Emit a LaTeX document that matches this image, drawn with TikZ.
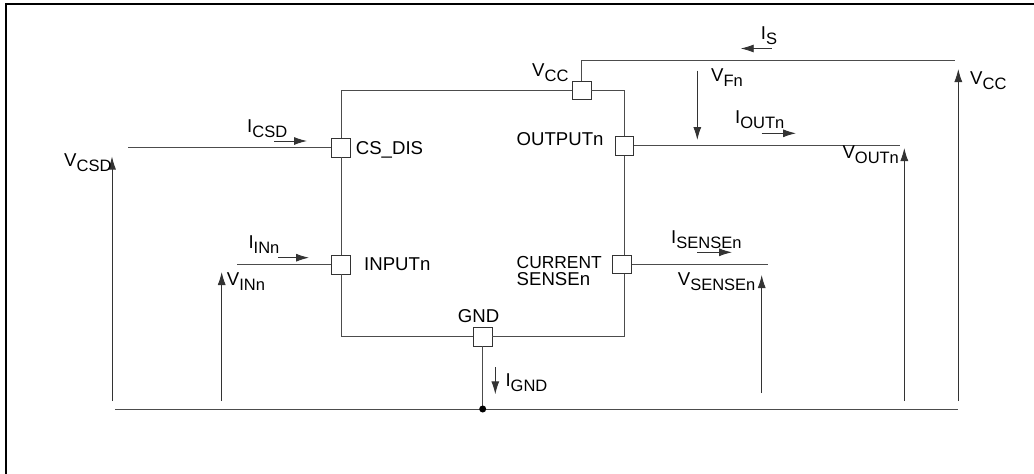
\documentclass[tikz,border=0pt]{standalone}
\usepackage{fontspec}
\setmainfont{Liberation Sans}
\usetikzlibrary{arrows.meta, positioning}
\tikzstyle{pad} = [rectangle, minimum size=18.5pt, inner sep=0pt, draw=black!80, fill=white, line width=0.9pt]
\tikzstyle{wire} = [black!70, line width=1pt]
\tikzstyle{arrow} = [black!80, line width=0.9pt, -{Latex[length=13pt,width=8pt]}]
\tikzstyle{lbl} = [inner sep=0pt, anchor=base west, font=\fontsize{18.6}{20}\selectfont]
\newcommand{\sublbl}[2]{#1{\fontsize{16.5}{17}\selectfont\raisebox{-5pt}{#2}}}

\begin{document}
\begin{tikzpicture}[x=1pt, y=-1pt]
\useasboundingbox (0,0) rectangle (1034,474);

% Frame
\draw [black, line width=2.2pt] (6,474) -- (6,4.3) -- (1034,4.3);

% Pads
\node (csdis) [pad] at (341,147.7) {};
\node (input) [pad, below of=csdis, node distance=117pt] {};
\node (vcc) [pad] at (581.7,90.5) {};
\node (output) [pad] at (624.3,145.8) {};
\node (sense) [pad] at (622,264.6) {};
\node (gnd) [pad] at (482.7,336.7) {};

% Line ends
\coordinate (boxtl) at (341,90.5);
\coordinate (boxtr) at (624.3,90.5);
\coordinate (boxbl) at (341,336.7);
\coordinate (boxbr) at (624.3,336.7);
\coordinate (vccleft) at (581.7,60);
\coordinate (vccright) at (955,60);
\coordinate (outend) at (900,145.8);
\coordinate (senseend) at (767.7,264.6);
\coordinate (csdend) at (128,147.7);
\coordinate (inend) at (237,264.7);
\coordinate (groundl) at (115,409);
\coordinate (groundr) at (958,409);
\coordinate (junction) at (482.7,409);
\coordinate (senseup) at (624.3,255.3);
\coordinate (sensedown) at (624.3,273.9);

% Wires
\draw [wire] (csdis) -- (boxtl) -- (vcc);
\draw [wire] (vcc) -- (boxtr) -- (output);
\draw [wire] (output) -- (senseup);
\draw [wire] (sensedown) -- (boxbr) -- (gnd);
\draw [wire] (gnd) -- (boxbl) -- (input);
\draw [wire] (input) -- (csdis);
\draw [wire] (vcc) -- (vccleft) -- (vccright);
\draw [wire] (output) -- (outend);
\draw [wire] (sense) -- (senseend);
\draw [wire] (csdis) -- (csdend);
\draw [wire] (input) -- (inend);
\draw [wire] (groundl) -- (groundr);
\draw [wire] (gnd) -- (junction);
\fill [black] (junction) circle (3.5pt);

% Voltage arrows
\coordinate (vcsdlow) at (112,401);
\coordinate (vcsdtip) at (112,156.5);
\coordinate (vinlow) at (221.7,401);
\coordinate (vintip) at (221.7,272);
\coordinate (vsenselow) at (761.7,393);
\coordinate (vsensetip) at (761.7,275);
\coordinate (voutlow) at (904.3,401);
\coordinate (vouttip) at (904.3,148);
\coordinate (vcclow) at (958.3,401);
\coordinate (vcctip) at (958.3,69);
\coordinate (vftop) at (697.3,70.7);
\coordinate (vftip) at (697.3,140);
\draw [arrow] (vcsdlow) -- (vcsdtip);
\draw [arrow] (vinlow) -- (vintip);
\draw [arrow] (vsenselow) -- (vsensetip);
\draw [arrow] (voutlow) -- (vouttip);
\draw [arrow] (vcclow) -- (vcctip);
\draw [arrow] (vftop) -- (vftip);

% Current arrows
\coordinate (isfrom) at (771.7,48.5);
\coordinate (isto) at (740.7,48.5);
\coordinate (ioutfrom) at (761.7,133.3);
\coordinate (ioutto) at (796,133.3);
\coordinate (icsdfrom) at (274,141);
\coordinate (icsdto) at (307,141);
\coordinate (iinfrom) at (278,257.7);
\coordinate (iinto) at (309,257.7);
\coordinate (isensefrom) at (697,252.3);
\coordinate (isenseto) at (732,252.3);
\coordinate (ignfrom) at (495.3,367.3);
\coordinate (ignto) at (495.3,394.3);
\draw [arrow] (isfrom) -- (isto);
\draw [arrow] (ioutfrom) -- (ioutto);
\draw [arrow] (icsdfrom) -- (icsdto);
\draw [arrow] (iinfrom) -- (iinto);
\draw [arrow] (isensefrom) -- (isenseto);
\draw [arrow] (ignfrom) -- (ignto);

% Pad names
\node (namecsdis) [lbl] at (355.7,154.3) {CS\_DIS};
\node (nameinput) [lbl] at (364,270) {INPUTn};
\node (nameoutput) [lbl] at (516.5,145) {OUTPUTn};
\node (namecurrent) [lbl, font=\fontsize{17.4}{19}\selectfont] at (516.5,268.3) {CURRENT};
\node (namesense) [lbl] at (516.5,285.7) {SENSEn};
\node (namegnd) [lbl] at (457.7,322.7) {GND};

% Quantities
\node (lblvcc) [lbl] at (532,76) {\sublbl{V}{CC}};
\node (lblvccr) [lbl] at (970,84) {\sublbl{V}{CC}};
\node (lblvf) [lbl] at (711,81.7) {\sublbl{V}{Fn}};
\node (lblvout) [lbl] at (842.3,158.3) {\sublbl{V}{OUTn}};
\node (lblvcsd) [lbl] at (64,166.7) {\sublbl{V}{CSD}};
\node (lblvin) [lbl] at (226.7,285) {\sublbl{V}{INn}};
\node (lblvsense) [lbl] at (677.7,285) {\sublbl{V}{SENSEn}};
\node (lblis) [lbl] at (760.7,39) {\sublbl{I}{S}};
\node (lbliout) [lbl] at (735,123.3) {\sublbl{I}{OUTn}};
\node (lblicsd) [lbl] at (247,132.7) {\sublbl{I}{CSD}};
\node (lbliin) [lbl] at (248.3,248.3) {\sublbl{I}{INn}};
\node (lblisense) [lbl] at (671,243) {\sublbl{I}{SENSEn}};
\node (lblignd) [lbl] at (505.3,386.7) {\sublbl{I}{GND}};

\end{tikzpicture}
\end{document}
